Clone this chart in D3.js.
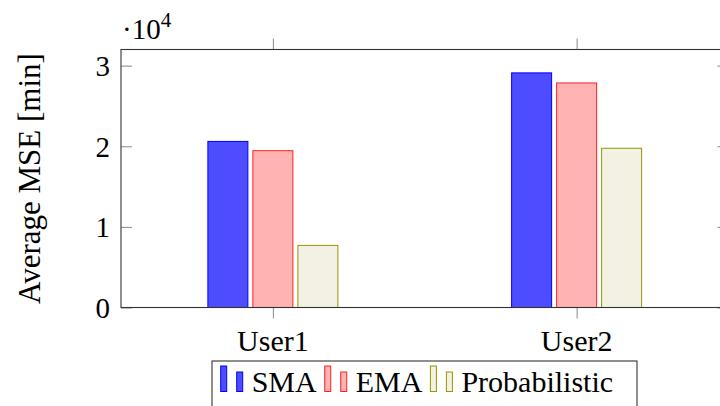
<!DOCTYPE html>
<html><head><meta charset="utf-8">
<script src="https://cdn.jsdelivr.net/npm/d3@7"></script>
<style>svg text, svg tspan { font-family: "Liberation Serif", "Tinos", serif !important; }</style>
</head><body style="margin:0;background:#fff">
<script>
const categories = ["User1", "User2"];
const seriesNames = ["SMA", "EMA", "Probabilistic"];
const smaValues = [20600, 29100];
const emaValues = [19450, 27850];
const probValues = [7700, 19750];
const yTicks = [0, 10000, 20000, 30000];
const yTickLabels = ["0", "1", "2", "3"];

const seriesValues = [smaValues, emaValues, probValues];
const fills = ["#4d4dff", "#ffb3b3", "#f2f1e3"];
const strokes = ["#0000ff", "#ff2020", "#9b9400"];

const W = 720, H = 406;
const FONT = "Liberation Serif, Tinos, serif";
const svg = d3.select("body").append("svg").attr("width", W).attr("height", H)
  .attr("font-family", FONT).style("display", "block");

const mLeft = 121, mRight = 728.5, mTop = 49.5, mBottom = 307.5;
const x = d3.scalePoint().domain(categories).range([mLeft, mRight]).padding(0.5);
const xs = d3.scaleBand().domain(seriesNames).range([-67.5, 67.5]).paddingInner(1/9).paddingOuter(1/18);
const y = d3.scaleLinear().domain([0, 32000]).range([mBottom, mTop]);

// bars
seriesNames.forEach((s, si) => {
  svg.append("g").selectAll("rect").data(categories).join("rect")
    .attr("x", c => x(c) + xs(s))
    .attr("y", (c, i) => y(seriesValues[si][i]))
    .attr("width", xs.bandwidth())
    .attr("height", (c, i) => y(0) - y(seriesValues[si][i]))
    .attr("fill", fills[si]).attr("stroke", strokes[si]).attr("stroke-width", 1);
});

// ticks
const tickCol = "#8a8a8a";
const yAxisL = d3.axisRight(y).tickValues(yTicks).tickSize(11).tickFormat("");
svg.append("g").attr("transform", `translate(${mLeft},0)`).call(yAxisL)
  .call(g => { g.select(".domain").remove(); g.selectAll("line").attr("stroke", tickCol); });
const yAxisR = d3.axisLeft(y).tickValues(yTicks).tickSize(11).tickFormat("");
svg.append("g").attr("transform", `translate(${mRight},0)`).call(yAxisR)
  .call(g => { g.select(".domain").remove(); g.selectAll("line").attr("stroke", tickCol); });
const xAxisB = d3.axisBottom(x).tickSize(11).tickFormat("");
svg.append("g").attr("transform", `translate(0,${mBottom})`).call(xAxisB)
  .call(g => { g.select(".domain").remove(); g.selectAll("line").attr("stroke", tickCol); });
const xAxisT = d3.axisTop(x).tickSize(11).tickFormat("");
svg.append("g").attr("transform", `translate(0,${mTop})`).call(xAxisT)
  .call(g => { g.select(".domain").remove(); g.selectAll("line").attr("stroke", tickCol); });

// frame
svg.append("rect").attr("x", mLeft).attr("y", mTop).attr("width", mRight - mLeft).attr("height", mBottom - mTop)
  .attr("fill", "none").attr("stroke", "#333").attr("stroke-width", 1.1);

const tx = sel => sel.attr("font-family", FONT).attr("fill", "#000");

// y tick labels
svg.append("g").selectAll("text").data(yTicks).join("text")
  .attr("x", 110).attr("y", d => y(d) + 10.5)
  .attr("text-anchor", "end").attr("font-size", 29).call(tx)
  .text((d, i) => yTickLabels[i]);

// x tick labels
svg.append("g").selectAll("text").data(categories).join("text")
  .attr("x", d => x(d)).attr("y", 351)
  .attr("text-anchor", "middle").attr("font-size", 30).call(tx)
  .text(d => d);

// y label
svg.append("text").attr("transform", "translate(40,178.5) rotate(-90)")
  .attr("text-anchor", "middle").attr("font-size", 31).call(tx)
  .text("Average MSE [min]");

// scale factor label
const sf = svg.append("text").attr("x", 122).attr("y", 39).attr("font-size", 29).call(tx);
sf.append("tspan").text("·10");
sf.append("tspan").attr("font-size", 21).attr("dy", -12).text("4");

// legend
const legX = 212, legY = 361;
svg.append("rect").attr("x", legX).attr("y", legY).attr("width", 425).attr("height", 60)
  .attr("fill", "#fff").attr("stroke", "#333").attr("stroke-width", 1.1);
let lx = 220.7;
const base = 391.5;
seriesNames.forEach((s, si) => {
  const g = svg.append("g");
  g.append("rect").attr("x", lx).attr("y", base - 25.5).attr("width", 6).attr("height", 25.5)
    .attr("fill", fills[si]).attr("stroke", strokes[si]).attr("stroke-width", 1);
  g.append("rect").attr("x", lx + 16).attr("y", base - 19.5).attr("width", 6).attr("height", 19.5)
    .attr("fill", fills[si]).attr("stroke", strokes[si]).attr("stroke-width", 1);
  const t = g.append("text").attr("x", lx + 31).attr("y", base).attr("font-size", 30).call(tx).text(s);
  lx = lx + 31 + t.node().getComputedTextLength() + 8;
});
</script>
</body></html>
